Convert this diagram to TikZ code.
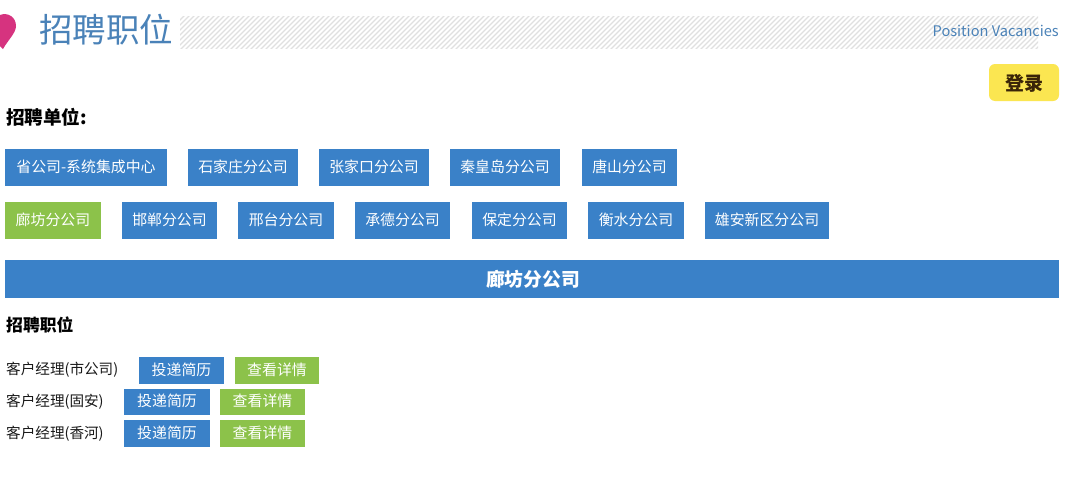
\documentclass[tikz,border=0pt]{standalone}
\usepackage{fontspec}
\setmainfont{Noto Sans CJK SC}
\definecolor{btnblue}{HTML}{3A81C8}
\definecolor{btngreen}{HTML}{8CC24A}
\definecolor{titleblue}{HTML}{4A82B8}
\definecolor{hatchgray}{HTML}{E0E0E0}
\definecolor{loginyellow}{HTML}{FBE651}
\definecolor{logintext}{HTML}{3A2408}
\definecolor{pinkmark}{HTML}{D6337F}
\tikzset{
  boxbase/.style={inner sep=0pt,outer sep=0pt,text=white,text height=12.5pt,text depth=2.6pt,font=\fontsize{14.9}{15}\selectfont},
  bluebox/.style={boxbase,fill=btnblue},
  greenbox/.style={boxbase,fill=btngreen},
  plainlabel/.style={anchor=west,inner sep=0pt,text=black!90,font=\fontsize{14.6}{15}\selectfont},
}
% name, x1, y1, x2, y2, style, text (pixel coordinates, y downward)
\newcommand{\pagebtn}[7]{%
  \path[#6] (#2,-#3) rectangle (#4,-#5);
  \node[#6,fill=none] (#1) at ({(#2+#4)/2},{-(#3+#5)/2}) {#7};
}
\begin{document}
\begin{tikzpicture}[x=1pt,y=1pt]
\useasboundingbox (0,0) rectangle (1080,-496);
\fill[white] (0,0) rectangle (1080,-496);

% marker
\fill[pinkmark] (0,-15) .. controls (8,-12) and (16,-17) .. (16,-26)
  .. controls (16,-33) and (8,-40) .. (3,-49) -- (0,-46) -- cycle;

% hatched band
\begin{scope}
  \clip (180,-16) rectangle (1038,-48);
  \foreach \hx in {140,145,...,1040}
    \draw[hatchgray,line width=1.2pt] (\hx,-50) -- (\hx+36,-14);
\end{scope}

\node[anchor=west,inner sep=0pt,text=titleblue,font=\fontsize{33.5}{34}\selectfont] (title) at (39,-30) {招聘职位};
\node[anchor=east,inner sep=0pt,text=titleblue,font=\fontsize{14.6}{15}\selectfont] (subtitle) at (1059,-31) {Position Vacancies};

% login
\path[fill=loginyellow,rounded corners=6pt] (989,-64) rectangle (1059,-101);
\node[inner sep=0pt,text=logintext,font=\bfseries\fontsize{19}{19}\selectfont] (login) at (1024,-83) {登录};

\node[anchor=west,inner sep=0pt,text=black,font=\bfseries\fontsize{18.6}{19}\selectfont] (unitlabel) at (6,-117) {招聘单位:};

% row 1
\pagebtn{a1}{5}{149}{167}{186}{bluebox}{省公司-系统集成中心}
\pagebtn{a2}{188}{149}{298}{186}{bluebox}{石家庄分公司}
\pagebtn{a3}{319}{149}{429}{186}{bluebox}{张家口分公司}
\pagebtn{a4}{450}{149}{560}{186}{bluebox}{秦皇岛分公司}
\pagebtn{a5}{582}{149}{677}{186}{bluebox}{唐山分公司}

% row 2
\pagebtn{b1}{5}{202}{101}{239}{greenbox}{廊坊分公司}
\pagebtn{b2}{122}{202}{217}{239}{bluebox}{邯郸分公司}
\pagebtn{b3}{238}{202}{334}{239}{bluebox}{邢台分公司}
\pagebtn{b4}{355}{202}{450}{239}{bluebox}{承德分公司}
\pagebtn{b5}{472}{202}{567}{239}{bluebox}{保定分公司}
\pagebtn{b6}{588}{202}{684}{239}{bluebox}{衡水分公司}
\pagebtn{b7}{705}{202}{829}{239}{bluebox}{雄安新区分公司}

% banner
\path[fill=btnblue] (5,-260) rectangle (1059,-298);
\node[inner sep=0pt,text=white,font=\bfseries\fontsize{18.8}{19}\selectfont] (banner) at (533,-279) {廊坊分公司};

\node[anchor=west,inner sep=0pt,text=black,font=\bfseries\fontsize{16.8}{17}\selectfont] (poslabel) at (6,-325) {招聘职位};

% jobs
\node[plainlabel] (j1) at (6,-369.5) {客户经理(市公司)};
\pagebtn{j1a}{139}{357}{224}{384}{bluebox}{投递简历}
\pagebtn{j1b}{235}{357}{319}{384}{greenbox}{查看详情}
\node[plainlabel] (j2) at (6,-401.5) {客户经理(固安)};
\pagebtn{j2a}{124}{389}{210}{415}{bluebox}{投递简历}
\pagebtn{j2b}{220}{389}{305}{415}{greenbox}{查看详情}
\node[plainlabel] (j3) at (6,-433.5) {客户经理(香河)};
\pagebtn{j3a}{124}{420}{210}{447}{bluebox}{投递简历}
\pagebtn{j3b}{220}{420}{305}{447}{greenbox}{查看详情}
\end{tikzpicture}
\end{document}
